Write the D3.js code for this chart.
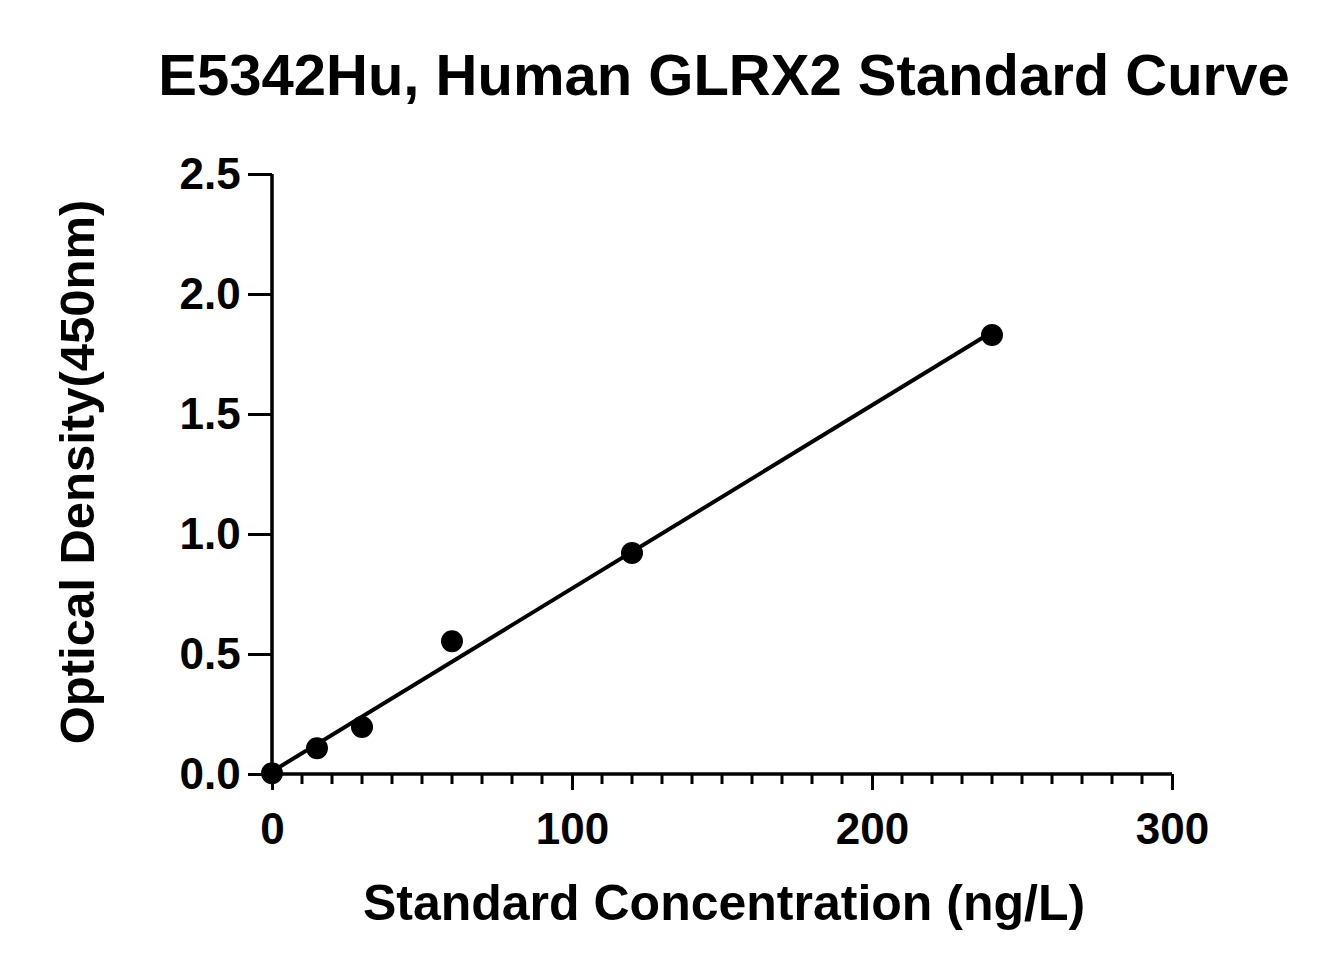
<!DOCTYPE html>
<html><head><meta charset="utf-8">
<script src="https://cdn.jsdelivr.net/npm/d3@7"></script>
<style>body{margin:0;background:#fff}text{font-family:"Liberation Sans",Arial,sans-serif;font-weight:bold}</style>
</head><body><svg id="chart" width="1332" height="975"></svg>
<script>
const concentrations = [0, 15, 30, 60, 120, 240];
const densities = [0.003, 0.107, 0.196, 0.553, 0.921, 1.829];
const xTicks = [0, 100, 200, 300];
const yTicks = [0, 0.5, 1.0, 1.5, 2.0, 2.5];

const svg = d3.select("#chart");
const x = d3.scaleLinear().domain([0, 300]).range([272, 1172]);
const y = d3.scaleLinear().domain([0, 2.5]).range([774, 174]);

svg.append("text").attr("x", 724).attr("y", 95).attr("text-anchor", "middle")
  .attr("font-size", 58).text("E5342Hu, Human GLRX2 Standard Curve");

// x axis
const xAxis = svg.append("g").attr("transform", "translate(0,774)");
xAxis.call(d3.axisBottom(x).tickValues(xTicks).tickSize(16).tickFormat(d3.format("d")))
  .call(g => g.selectAll("text").attr("font-size", 44).attr("dy", "1.15em").attr("fill", "#000"));
xAxis.selectAll(".tick line").attr("stroke-width", 3);
xAxis.select(".domain").attr("stroke-width", 3.5).attr("d", `M${x(0)},0H${x(300)}`);
xAxis.selectAll(".minor").data(d3.range(0, 301, 10).filter(v => v % 100))
  .enter().append("line").attr("x1", d => x(d)).attr("x2", d => x(d))
  .attr("y1", 0).attr("y2", 10).attr("stroke", "#000").attr("stroke-width", 3);

// y axis
const yAxis = svg.append("g").attr("transform", "translate(272,0)");
yAxis.call(d3.axisLeft(y).tickValues(yTicks).tickSize(24).tickFormat(d3.format(".1f")))
  .call(g => g.selectAll("text").attr("font-size", 44).attr("dx", "-0.1em").attr("fill", "#000"));
yAxis.selectAll(".tick line").attr("stroke-width", 3);
yAxis.select(".domain").attr("stroke-width", 3.5).attr("d", `M0,${y(2.5)}V${y(0)}`);

svg.append("text").attr("x", 724).attr("y", 920).attr("text-anchor", "middle")
  .attr("font-size", 50).text("Standard Concentration (ng/L)");
svg.append("text").attr("transform", "translate(94,472) rotate(-90)").attr("text-anchor", "middle")
  .attr("font-size", 49).text("Optical Density(450nm)");

// linear fit
const mx = d3.mean(concentrations), my = d3.mean(densities);
const slope = d3.sum(concentrations, (c, i) => (c - mx) * (densities[i] - my)) /
  d3.sum(concentrations, c => (c - mx) ** 2);
const icpt = my - slope * mx;
svg.append("line").attr("x1", x(0)).attr("y1", y(icpt)).attr("x2", x(240)).attr("y2", y(icpt + slope * 240))
  .attr("stroke", "#000").attr("stroke-width", 4);

svg.selectAll(".pt").data(concentrations).enter().append("circle")
  .attr("cx", d => x(d)).attr("cy", (d, i) => y(densities[i])).attr("r", 11).attr("fill", "#000");
</script></body></html>
